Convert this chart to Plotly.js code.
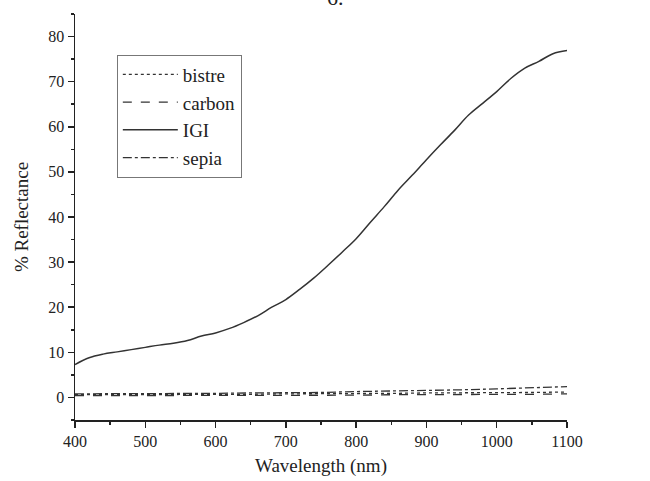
<!DOCTYPE html>
<html>
<head>
<meta charset="utf-8">
<script src="https://cdn.plot.ly/plotly-3.0.1.min.js"></script>
<style>html,body{margin:0;padding:0;background:#fff;}#chart{width:650px;height:481px;}</style>
</head>
<body>
<div id="chart"></div>
<script>
// Wavelength grids (nm)
const wlIGI = [400,420,440,460,480,500,520,540,560,580,600,620,640,660,680,700,720,740,760,780,800,820,840,860,880,900,920,940,960,980,1000,1020,1040,1060,1080,1100];
const igi   = [7.3,8.8,9.6,10.1,10.6,11.1,11.6,12.0,12.6,13.6,14.3,15.3,16.6,18.1,20.0,21.7,24.0,26.5,29.3,32.2,35.2,38.8,42.3,46.0,49.3,52.7,56.0,59.2,62.6,65.2,67.8,70.7,73.0,74.5,76.2,76.9];

const wlLow  = [400,450,500,550,600,650,700,750,800,850,900,950,1000,1050,1100];
const bistre = [0.6,0.6,0.6,0.7,0.7,0.7,0.8,0.8,0.9,0.9,1.0,1.0,1.1,1.1,1.2];
const carbon = [0.4,0.4,0.4,0.4,0.4,0.5,0.5,0.5,0.5,0.6,0.6,0.6,0.7,0.7,0.8];
const sepia  = [0.8,0.8,0.8,0.9,0.9,1.0,1.0,1.1,1.3,1.4,1.6,1.7,1.9,2.1,2.4];

const seriesNames = ['bistre','carbon','IGI','sepia'];
const lineCol = '#333333';
const serif = 'Liberation Serif, Times New Roman, serif';

const traces = [
  {x: wlLow, y: bistre, name: seriesNames[0], mode: 'lines', line: {color: lineCol, width: 1.3, dash: 'dot'}},
  {x: wlLow, y: carbon, name: seriesNames[1], mode: 'lines', line: {color: lineCol, width: 1.3, dash: 'dash'}},
  {x: wlIGI, y: igi,    name: seriesNames[2], mode: 'lines', line: {color: lineCol, width: 1.5, dash: 'solid', shape: 'spline'}},
  {x: wlLow, y: sepia,  name: seriesNames[3], mode: 'lines', line: {color: lineCol, width: 1.3, dash: 'dashdot'}}
];

const layout = {
  width: 650, height: 481,
  margin: {l: 75, r: 83, t: 14, b: 61},
  paper_bgcolor: '#fff', plot_bgcolor: '#fff',
  font: {family: serif, color: '#222', size: 16},
  showlegend: true,
  legend: {
    x: 0.085, y: 0.9, xanchor: 'left', yanchor: 'top',
    bordercolor: '#777', borderwidth: 1, bgcolor: '#fff',
    font: {family: serif, size: 19, color: '#222'},
    itemwidth: 55,
    tracegroupgap: 0
  },
  xaxis: {
    range: [400, 1100], dtick: 100, tick0: 400,
    showline: true, linecolor: '#222', linewidth: 1.5,
    ticks: 'outside', ticklen: 6, tickwidth: 1.5, tickcolor: '#222',
    minor: {ticks: 'outside', ticklen: 3, dtick: 50, tickwidth: 1.5, tickcolor: '#222', showgrid: false},
    showgrid: false, zeroline: false,
    tickfont: {family: serif, size: 16},
    title: {text: 'Wavelength (nm)', font: {family: serif, size: 19}, standoff: 10}
  },
  yaxis: {
    range: [-5, 85], dtick: 10, tick0: 0,
    showline: true, linecolor: '#222', linewidth: 1.5,
    ticks: 'outside', ticklen: 6, tickwidth: 1.5, tickcolor: '#222',
    minor: {ticks: 'outside', ticklen: 3, dtick: 5, tickwidth: 1.5, tickcolor: '#222', showgrid: false},
    showgrid: false, zeroline: false,
    tickfont: {family: serif, size: 16},
    title: {text: '% Reflectance', font: {family: serif, size: 19}, standoff: 14}
  },
  annotations: [
    {text: '6.', xref: 'paper', yref: 'paper', x: 0.53, y: 1, yshift: 2, xanchor: 'center', yanchor: 'bottom',
     showarrow: false, font: {family: serif, size: 22, color: '#222'}}
  ]
};

Plotly.newPlot('chart', traces, layout, {displayModeBar: false, staticPlot: true});
</script>
</body>
</html>
